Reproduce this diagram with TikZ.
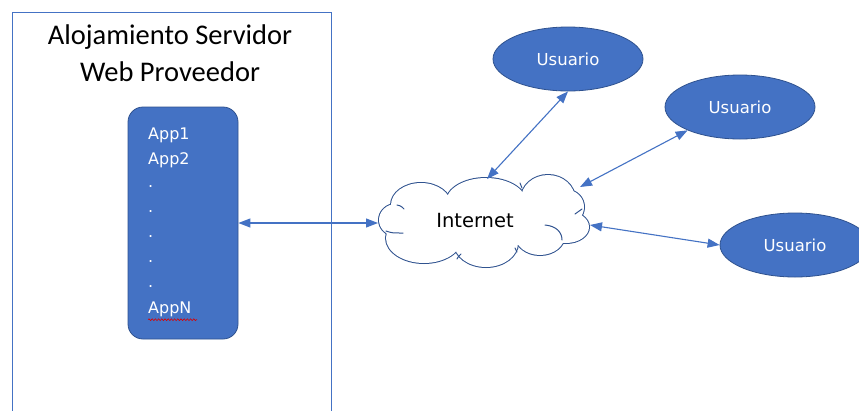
\documentclass[tikz,border=0pt]{standalone}
\usepackage{fontspec}
\setmainfont{Carlito}
\newfontfamily\uifont{DejaVu Sans}
\usetikzlibrary{shapes.geometric,arrows.meta,decorations.pathmorphing}
\definecolor{accent}{HTML}{4472C4}
\definecolor{accentdark}{HTML}{2F528F}
\tikzset{
  link/.style={draw=accent, line width=1.1pt, {Triangle[width=9pt,length=12pt]}-{Triangle[width=9pt,length=12pt]}},
  userbox/.style={ellipse, fill=accent, draw=accentdark, line width=0.8pt, minimum width=150pt, minimum height=64pt, inner sep=0pt, text=white, font=\uifont\fontsize{16.5}{18}\selectfont},
  applabel/.style={anchor=west, inner sep=0pt, text=white, font=\uifont\fontsize{16}{18}\selectfont},
  titletext/.style={inner sep=0pt, font=\fontsize{28.5}{32}\selectfont},
  puffline/.style={draw=accentdark, line width=1pt, line cap=round}
}
% the puffs of the cloud: centre x, centre y, x radius, y radius
\newcommand\cloudpuffs[1]{%
  \path[#1] (396,220) ellipse [x radius=17, y radius=16];
  \path[#1] (421,205) ellipse [x radius=30, y radius=22];
  \path[#1] (486,202) ellipse [x radius=40, y radius=24];
  \path[#1] (548,199) ellipse [x radius=27, y radius=24];
  \path[#1] (567,207) ellipse [x radius=17, y radius=17];
  \path[#1] (566,227) ellipse [x radius=23, y radius=16];
  \path[#1] (540,235) ellipse [x radius=25, y radius=20];
  \path[#1] (486,243) ellipse [x radius=32, y radius=24];
  \path[#1] (424,238) ellipse [x radius=38, y radius=25];
}
\begin{document}
\begin{tikzpicture}[x=1pt,y=-1pt]
\useasboundingbox (0,0) rectangle (859,410);
\clip (0,0) rectangle (859,410);
\fill[white] (0,0) rectangle (859,410);

% hosting provider frame
\draw[accent, line width=0.9pt] (12,12) rectangle (331,430);
\node[titletext] (t1) at (170,37) {Alojamiento Servidor};
\node[titletext] (t2) at (170,72) {Web Proveedor};

% application server block
\node[rectangle, rounded corners=15pt, fill=accent, draw=accentdark, line width=0.8pt,
      minimum width=110pt, minimum height=232pt, inner sep=0pt] (srv) at (183,223) {};
\node[applabel] (a1) at (148,135) {App1};
\node[applabel] (a2) at (148,160) {App2};
\node[applabel] (d1) at (148,187) {.};
\node[applabel] (d2) at (148,212) {.};
\node[applabel] (d3) at (148,237) {.};
\node[applabel] (d4) at (148,262) {.};
\node[applabel] (d5) at (148,287) {.};
\node[applabel] (an) at (148,309) {AppN};
\draw[red!85!black, line width=0.6pt, decorate, decoration={snake, amplitude=0.9pt, segment length=3.2pt}]
  (an.south west) ++(0,3) -- ++(49,0);

% internet cloud: wide strokes of every puff, then a white fill over them,
% so only the outer outline of the union is left
\cloudpuffs{draw=accentdark, line width=2pt}
\cloudpuffs{fill=white}
\fill[white] (485,222) ellipse [x radius=85, y radius=25];
% inner folds of the cloud
\draw[puffline] (386,231) .. controls (392,233) .. (403,233);
\draw[puffline] (397,205) .. controls (401,206) .. (404,209);
\draw[puffline] (520,183) .. controls (521,185) .. (522,188);
\draw[puffline] (582,209) .. controls (579,212) .. (575,214);
\draw[puffline] (545,225) .. controls (556,226) and (562,232) .. (562,240);
\draw[puffline] (515,248) .. controls (516,250) .. (517,252);
\draw[puffline] (457,259) .. controls (458,257) .. (461,254);
\node[inner sep=0pt, font=\uifont\fontsize{19.5}{22}\selectfont] (netlbl) at (475,221) {Internet};

% where the links meet the cloud
\coordinate (netW) at (378,223);
\coordinate (netN) at (487,179);
\coordinate (netNE) at (580,187);
\coordinate (netE) at (590,225);

% users
\node[userbox] (u1) at (568,59) {Usuario};
\node[userbox] (u2) at (740,107) {Usuario};
\node[userbox] (u3) at (795,245) {Usuario};

% connections
\draw[link] (srv.east) -- (netW);
\draw[link] (netN) -- (u1.south);
\draw[link] (netNE) -- (u2.204);
\draw[link] (netE) -- (u3.west);
\end{tikzpicture}
\end{document}
